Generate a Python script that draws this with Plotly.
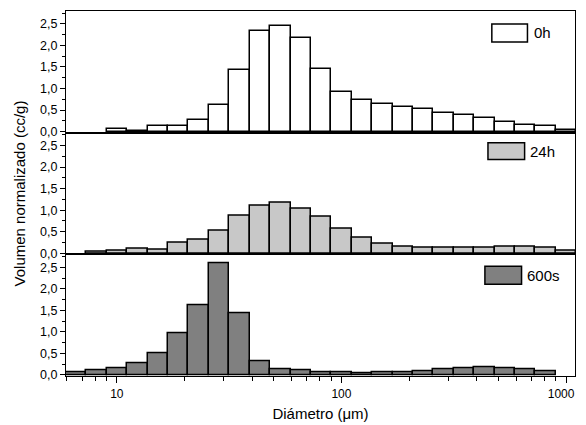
import plotly.graph_objects as go

# Bin edges (diameter, um), log-spaced
edges = [5.94, 7.32, 9.02, 11.12, 13.71, 16.90, 20.84, 25.69, 31.67, 39.04,
         48.13, 59.33, 73.15, 90.14, 111.1, 137.0, 168.9, 208.2, 256.6, 316.4,
         390.0, 480.8, 592.8, 730.6, 900.7, 1110.0]

# Normalized volume (cc/g) per bin
v_0h = [None, None, 0.05, 0.02, 0.12, 0.14, 0.28, 0.61, 1.42, 2.34,
        2.45, 2.18, 1.45, 0.93, 0.74, 0.64, 0.56, 0.53, 0.44, 0.39,
        0.32, 0.23, 0.16, 0.12, 0.04]
v_24h = [None, 0.03, 0.06, 0.11, 0.08, 0.24, 0.31, 0.52, 0.88, 1.10,
         1.18, 1.04, 0.84, 0.57, 0.36, 0.22, 0.16, 0.14, 0.12, 0.12,
         0.14, 0.16, 0.16, 0.14, 0.06]
v_600s = [0.05, 0.115, 0.15, 0.28, 0.50, 0.97, 1.62, 2.59, 1.44, 0.32,
          0.14, 0.10, 0.06, 0.06, 0.04, 0.06, 0.06, 0.085, 0.13, 0.16,
          0.17, 0.155, 0.13, 0.085, None]

series_names = ["0h", "24h", "600s"]
series_colors = ["#ffffff", "#c8c8c8", "#808080"]
x_ticks = [10, 100, 1000]
x_tick_text = ["10", "100", "1000\u00a0\u00a0\u00a0"]
x_minor = [6, 7, 8, 9, 20, 30, 40, 50, 60, 70, 80, 90,
           200, 300, 400, 500, 600, 700, 800, 900]
y_ticks = [0, 0.5, 1.0, 1.5, 2.0, 2.5]

lo = edges[:-1]
hi = edges[1:]
centers = [(a + b) / 2 for a, b in zip(lo, hi)]
widths = [b - a for a, b in zip(lo, hi)]

FONT = "Liberation Sans, Arial, sans-serif"
fig = go.Figure()

# panels: top (x3,y3), middle (x2,y2), bottom (x,y)
panels = [("x3", "y3", v_0h), ("x2", "y2", v_24h), ("x", "y", v_600s)]
for (xa, ya, vals), name, col in zip(panels, series_names, series_colors):
    fig.add_trace(go.Bar(x=centers, y=vals, width=widths, name=name,
                         xaxis=xa, yaxis=ya, showlegend=False,
                         marker=dict(color=col, line=dict(color="black", width=1.5))))

xr = [0.7738, 3.0397]
common_x = dict(type="log", range=xr, showline=True, linecolor="black", linewidth=1.3,
                mirror=True, showgrid=False, zeroline=False)
common_y = dict(range=[-0.025, 2.8], showline=True, linecolor="black", linewidth=1.3,
                mirror=True, showgrid=False, zeroline=False, tickvals=y_ticks,
                ticks="outside", ticklen=5, tickwidth=1, tickcolor="black",
                tickformat=".1f", tickfont=dict(family=FONT, size=12.5, color="black"),
                minor=dict(dtick=0.25, ticks="outside", ticklen=3, tickcolor="black"))

fig.update_layout(
    width=578, height=417,
    margin=dict(l=58, r=6, t=2, b=49),
    paper_bgcolor="white", plot_bgcolor="white",
    separators=", ",
    bargap=0,
    font=dict(family=FONT, size=13, color="black"),
    xaxis=dict(**common_x, domain=[0, 1], anchor="y", tickvals=x_ticks,
               ticktext=x_tick_text, ticks="outside", ticklen=6,
               ticklabeloverflow="allow",
               tickcolor="black", tickfont=dict(family=FONT, size=12, color="black"),
               minor=dict(tickvals=x_minor, ticks="outside", ticklen=4, tickcolor="black"),
               title=dict(text="Diámetro (μm)", font=dict(family=FONT, size=15), standoff=8)),
    xaxis2=dict(**common_x, domain=[0, 1], anchor="y2", matches="x", showticklabels=False),
    xaxis3=dict(**common_x, domain=[0, 1], anchor="y3", matches="x", showticklabels=False),
    yaxis=dict(**common_y, domain=[0, 1/3], anchor="x"),
    yaxis2=dict(**common_y, domain=[1/3, 2/3], anchor="x2",
                title=dict(text="Volumen normalizado (cc/g)", font=dict(family=FONT, size=15),
                           standoff=10)),
    yaxis3=dict(**common_y, domain=[2/3, 1], anchor="x3"),
)

# legend boxes (one per panel)
legend_pos = [("x3", "y3", 0.8366, 0.9066, 0.746, 0.893, 0.916, 0.82),
              ("x2", "y2", 0.829, 0.901, 0.779, 0.918, 0.9086, 0.848),
              ("x", "y", 0.823, 0.895, 0.754, 0.902, 0.9027, 0.828)]
for (xa, ya, x0, x1, y0, y1, tx, ty), name, col in zip(legend_pos, series_names, series_colors):
    fig.add_shape(type="rect", xref=f"{xa} domain", yref=f"{ya} domain",
                  x0=x0, x1=x1, y0=y0, y1=y1, fillcolor=col,
                  line=dict(color="black", width=1.5))
    fig.add_annotation(xref=f"{xa} domain", yref=f"{ya} domain", x=tx, y=ty,
                       text=name, showarrow=False, xanchor="left", yanchor="middle",
                       font=dict(family=FONT, size=15, color="black"))

fig.write_html("out.html", config={"displayModeBar": False})
